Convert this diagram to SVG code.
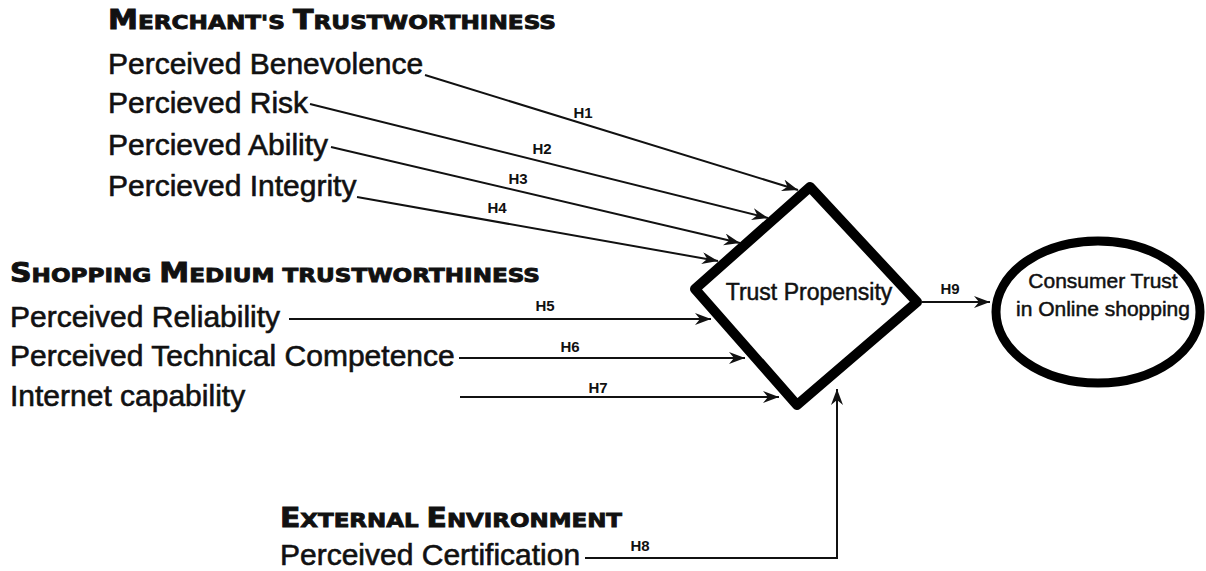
<svg xmlns="http://www.w3.org/2000/svg" width="1206" height="571" viewBox="0 0 1206 571">
<style>
.t{font-family:"Liberation Sans",Arial,sans-serif;font-size:30px;fill:#111;stroke:#111;stroke-width:0.6}
.hd{font-family:"DejaVu Sans","Liberation Sans",sans-serif;font-weight:bold;font-size:20px;fill:#111;stroke:#111;stroke-width:0.9}
.big{font-size:26px}
.lb{font-family:"Liberation Sans",Arial,sans-serif;font-size:15px;font-weight:bold;fill:#111}
.nd{font-family:"Liberation Sans",Arial,sans-serif;fill:#111;stroke:#111;stroke-width:0.5}
.ln{fill:none;stroke:#111;stroke-width:2}
</style>
<defs>
<marker id="ah" markerUnits="userSpaceOnUse" markerWidth="20" markerHeight="14" refX="16" refY="6" orient="auto">
<path d="M0,0 L16,6 L0,12 L5,6 Z" fill="#111"/>
</marker>
</defs>
<g id="merchant">
<text class="hd" x="108" y="29" textLength="448" lengthAdjust="spacingAndGlyphs"><tspan class="big">M</tspan>ERCHANT'S <tspan class="big">T</tspan>RUSTWORTHINESS</text>
<text class="t" x="108" y="74">Perceived Benevolence</text>
<text class="t" x="108" y="113">Percieved Risk</text>
<text class="t" x="108" y="155">Percieved Ability</text>
<text class="t" x="108" y="196">Percieved Integrity</text>
</g>
<g id="shopping">
<text class="hd" x="10" y="282" textLength="530" lengthAdjust="spacingAndGlyphs"><tspan class="big">S</tspan>HOPPING <tspan class="big">M</tspan>EDIUM TRUSTWORTHINESS</text>
<text class="t" x="10" y="327">Perceived Reliability</text>
<text class="t" x="10" y="366">Perceived Technical Competence</text>
<text class="t" x="10" y="406">Internet capability</text>
</g>
<g id="external">
<text class="hd" x="280" y="527" textLength="342" lengthAdjust="spacingAndGlyphs"><tspan class="big">E</tspan>XTERNAL <tspan class="big">E</tspan>NVIRONMENT</text>
<text class="t" x="280" y="565">Perceived Certification</text>
</g>
<g id="trust-propensity">
<polygon points="810,187 917,302 797,405 695,289" fill="#fff" stroke="#000" stroke-width="10" stroke-linejoin="round"/>
<text class="nd" x="809" y="300" text-anchor="middle" font-size="23">Trust Propensity</text>
</g>
<g id="consumer-trust">
<ellipse cx="1098" cy="312" rx="102" ry="71" fill="#fff" stroke="#000" stroke-width="9"/>
<text class="nd" x="1103" y="288" text-anchor="middle" font-size="21">Consumer Trust</text>
<text class="nd" x="1103" y="316" text-anchor="middle" font-size="21">in Online shopping</text>
</g>
<g id="connectors">
<line class="ln" x1="425" y1="75" x2="798" y2="190" marker-end="url(#ah)"/>
<line class="ln" x1="310" y1="104" x2="768" y2="218" marker-end="url(#ah)"/>
<line class="ln" x1="331" y1="147" x2="740" y2="243" marker-end="url(#ah)"/>
<line class="ln" x1="357" y1="197" x2="718" y2="261" marker-end="url(#ah)"/>
<line class="ln" x1="289" y1="319" x2="711" y2="319" marker-end="url(#ah)"/>
<line class="ln" x1="459" y1="358" x2="745" y2="358" marker-end="url(#ah)"/>
<line class="ln" x1="460" y1="397" x2="779" y2="397" marker-end="url(#ah)"/>
<polyline class="ln" points="585,558 837,558 837,389" marker-end="url(#ah)"/>
<line class="ln" x1="922" y1="302" x2="990" y2="302" marker-end="url(#ah)"/>
<text class="lb" x="583" y="118" text-anchor="middle">H1</text>
<text class="lb" x="542" y="154" text-anchor="middle">H2</text>
<text class="lb" x="518" y="184" text-anchor="middle">H3</text>
<text class="lb" x="497" y="213" text-anchor="middle">H4</text>
<text class="lb" x="545" y="311" text-anchor="middle">H5</text>
<text class="lb" x="570" y="352" text-anchor="middle">H6</text>
<text class="lb" x="598" y="393" text-anchor="middle">H7</text>
<text class="lb" x="640" y="551" text-anchor="middle">H8</text>
<text class="lb" x="950" y="294" text-anchor="middle">H9</text>
</g>
</svg>
